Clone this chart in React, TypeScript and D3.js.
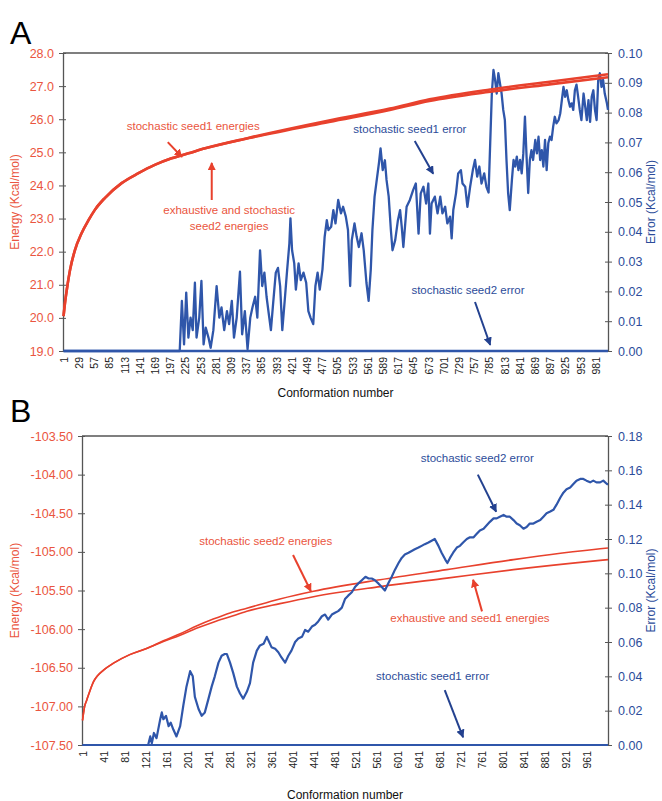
import React, { useRef, useEffect } from "react";
import * as d3 from "d3";

// conformation tick labels
const ticksA = [1, 29, 57, 85, 113, 141, 169, 197, 225, 253, 281, 309, 337, 365, 393, 421, 449, 477, 505, 533, 561, 589, 617, 645, 673, 701, 729, 757, 785, 813, 841, 869, 897, 925, 953, 981];
const ticksB = [1, 41, 81, 121, 161, 201, 241, 281, 321, 361, 401, 441, 481, 521, 561, 601, 641, 681, 721, 761, 801, 841, 881, 921, 961];

const energyTicksA = [19, 20, 21, 22, 23, 24, 25, 26, 27, 28];
const errorTicksA = [0, 0.01, 0.02, 0.03, 0.04, 0.05, 0.06, 0.07, 0.08, 0.09, 0.1];
const energyTicksB = [-107.5, -107, -106.5, -106, -105.5, -105, -104.5, -104, -103.5];
const errorTicksB = [0, 0.02, 0.04, 0.06, 0.08, 0.1, 0.12, 0.14, 0.16, 0.18];

// [conformation, energy]
const exhaustiveA = [[1, 20.05], [4, 20.5], [7, 20.85], [13, 21.45], [22, 22.05], [34, 22.55], [47, 22.95], [59, 23.27], [77, 23.62], [108, 24.07], [139, 24.37], [169, 24.62], [200, 24.82], [231, 24.97], [262, 25.12], [343, 25.43], [490, 25.92], [602, 26.28], [675, 26.55], [787, 26.83], [900, 27.06], [1004, 27.27]];
const seed1EnergyA = [[1, 20.05], [4, 20.5], [7, 20.85], [13, 21.45], [22, 22.05], [34, 22.55], [47, 22.95], [59, 23.27], [77, 23.62], [108, 24.07], [139, 24.37], [169, 24.62], [200, 24.82], [231, 24.97], [262, 25.12], [343, 25.44], [490, 25.96], [602, 26.32], [675, 26.6], [787, 26.9], [900, 27.14], [1004, 27.36]];

// [conformation, error]
const seed1ErrorA = [[1, 0], [215, 0], [219, 0.0168], [223, 0.0022], [227, 0.0196], [231, 0.0045], [235, 0.0112], [239, 0.007], [243, 0.0229], [246, 0.0045], [251, 0.0112], [255, 0.0235], [259, 0.0022], [263, 0.0078], [268, 0.0045], [272, 0.0011], [277, 0.007], [283, 0.0218], [288, 0.0112], [292, 0.0146], [297, 0.007], [302, 0.0134], [306, 0.009], [311, 0.0168], [315, 0.0045], [320, 0.0112], [326, 0.0266], [330, 0.0056], [335, 0.0134], [340, 0.0006], [345, 0.0112], [349, 0.0146], [354, 0.0182], [358, 0.0112], [363, 0.0338], [367, 0.0218], [371, 0.0263], [375, 0.0182], [380, 0.0112], [383, 0.007], [387, 0.0157], [392, 0.0263], [396, 0.0279], [400, 0.0218], [404, 0.007], [409, 0.0182], [413, 0.0274], [417, 0.036], [419, 0.0445], [422, 0.0338], [426, 0.0294], [429, 0.0206], [434, 0.0294], [438, 0.0238], [443, 0.0263], [448, 0.0229], [452, 0.0134], [456, 0.0112], [461, 0.009], [465, 0.0218], [469, 0.0263], [473, 0.0206], [478, 0.0274], [482, 0.0383], [486, 0.0439], [489, 0.0406], [494, 0.0417], [498, 0.0473], [502, 0.0428], [507, 0.0507], [512, 0.0462], [516, 0.0484], [521, 0.0451], [525, 0.0406], [529, 0.0218], [532, 0.0372], [537, 0.0428], [541, 0.0383], [545, 0.0349], [550, 0.0395], [554, 0.0338], [559, 0.0229], [563, 0.0168], [567, 0.0274], [570, 0.0406], [574, 0.0518], [578, 0.0574], [582, 0.063], [585, 0.068], [589, 0.0607], [593, 0.064], [596, 0.0574], [600, 0.0518], [604, 0.0406], [607, 0.0338], [612, 0.0372], [617, 0.0439], [621, 0.0473], [624, 0.0417], [627, 0.0349], [633, 0.0484], [639, 0.0507], [645, 0.054], [650, 0.0562], [655, 0.0394], [659, 0.0529], [664, 0.0551], [669, 0.0495], [673, 0.0562], [676, 0.0394], [679, 0.0495], [685, 0.0518], [690, 0.0462], [695, 0.0518], [699, 0.0462], [704, 0.0484], [708, 0.0428], [713, 0.0451], [716, 0.0378], [719, 0.0473], [724, 0.0529], [728, 0.0596], [733, 0.0607], [736, 0.0562], [741, 0.0551], [745, 0.0484], [750, 0.0551], [755, 0.0607], [759, 0.0641], [763, 0.0585], [767, 0.0619], [771, 0.0562], [776, 0.0596], [780, 0.0551], [784, 0.0532], [787, 0.0697], [790, 0.0864], [793, 0.0943], [796, 0.091], [799, 0.0864], [802, 0.0932], [805, 0.0898], [808, 0.0864], [811, 0.0809], [814, 0.0775], [817, 0.0641], [820, 0.053], [823, 0.0473], [827, 0.0574], [830, 0.0641], [833, 0.0619], [836, 0.0652], [839, 0.0607], [842, 0.0641], [845, 0.0596], [848, 0.0663], [851, 0.0786], [854, 0.0652], [857, 0.053], [860, 0.0641], [863, 0.0674], [866, 0.0641], [870, 0.0708], [873, 0.0663], [876, 0.0719], [879, 0.0641], [882, 0.0674], [885, 0.0619], [888, 0.0708], [891, 0.0607], [894, 0.0697], [897, 0.0719], [900, 0.0708], [903, 0.0753], [906, 0.0786], [909, 0.0764], [913, 0.0775], [916, 0.0797], [919, 0.0842], [922, 0.0886], [925, 0.0853], [928, 0.0875], [931, 0.0842], [934, 0.082], [937, 0.0831], [940, 0.0809], [943, 0.0875], [946, 0.0894], [949, 0.0853], [952, 0.0809], [955, 0.0775], [959, 0.0864], [962, 0.082], [965, 0.0775], [968, 0.0842], [971, 0.0769], [974, 0.0853], [977, 0.0875], [980, 0.0809], [983, 0.0775], [986, 0.0909], [989, 0.0932], [992, 0.0886], [995, 0.091], [998, 0.0864], [1002, 0.0831], [1004, 0.0809]];
const seed2ErrorA = [[1, 0], [1004, 0]];

const exhaustiveB = [[1, -107.18], [5, -107.0], [9, -106.92], [15, -106.8], [22, -106.68], [30, -106.6], [41, -106.53], [60, -106.44], [91, -106.33], [123, -106.25], [155, -106.16], [187, -106.08], [218, -105.99], [250, -105.91], [282, -105.84], [314, -105.77], [377, -105.67], [441, -105.58], [568, -105.45], [695, -105.34], [822, -105.23], [987, -105.11], [1002, -105.1]];
const seed2EnergyB = [[1, -107.18], [5, -107.0], [9, -106.92], [15, -106.8], [22, -106.68], [30, -106.6], [41, -106.53], [60, -106.44], [91, -106.33], [123, -106.25], [155, -106.15], [187, -106.06], [218, -105.96], [250, -105.87], [282, -105.79], [314, -105.73], [377, -105.61], [441, -105.51], [568, -105.36], [695, -105.23], [822, -105.1], [987, -104.96], [1002, -104.95]];
const seed2ErrorB = [[1, 0], [126, 0], [130, 0.005], [133, 0.001], [137, 0.007], [142, 0.004], [149, 0.015], [152, 0.019], [155, 0.015], [160, 0.017], [165, 0.011], [169, 0.013], [174, 0.009], [180, 0.005], [187, 0.011], [193, 0.023], [199, 0.034], [206, 0.043], [211, 0.04], [215, 0.028], [222, 0.021], [228, 0.017], [234, 0.019], [241, 0.027], [247, 0.034], [253, 0.04], [260, 0.048], [266, 0.052], [272, 0.053], [276, 0.053], [282, 0.048], [288, 0.042], [295, 0.034], [301, 0.03], [307, 0.027], [314, 0.031], [320, 0.036], [326, 0.048], [333, 0.055], [339, 0.058], [346, 0.059], [352, 0.063], [355, 0.061], [361, 0.057], [368, 0.056], [374, 0.054], [380, 0.051], [387, 0.048], [393, 0.052], [399, 0.055], [406, 0.06], [412, 0.062], [419, 0.063], [425, 0.067], [431, 0.066], [438, 0.069], [444, 0.07], [450, 0.072], [457, 0.075], [463, 0.076], [469, 0.073], [476, 0.076], [482, 0.077], [488, 0.078], [495, 0.08], [501, 0.085], [507, 0.087], [514, 0.089], [520, 0.092], [526, 0.094], [533, 0.096], [540, 0.098], [546, 0.097], [552, 0.097], [558, 0.096], [565, 0.094], [571, 0.092], [577, 0.09], [584, 0.0945], [590, 0.098], [596, 0.102], [603, 0.106], [609, 0.109], [615, 0.111], [622, 0.112], [628, 0.113], [634, 0.114], [641, 0.115], [647, 0.116], [653, 0.117], [660, 0.118], [666, 0.119], [672, 0.12], [679, 0.116], [685, 0.112], [692, 0.108], [696, 0.106], [701, 0.109], [707, 0.112], [714, 0.115], [720, 0.116], [726, 0.118], [733, 0.12], [739, 0.121], [746, 0.121], [752, 0.123], [758, 0.125], [765, 0.126], [771, 0.128], [777, 0.13], [784, 0.132], [790, 0.132], [796, 0.133], [803, 0.134], [809, 0.133], [815, 0.133], [822, 0.131], [828, 0.129], [834, 0.128], [841, 0.126], [847, 0.127], [853, 0.129], [860, 0.129], [866, 0.13], [873, 0.131], [879, 0.133], [885, 0.135], [892, 0.136], [898, 0.137], [904, 0.14], [911, 0.144], [917, 0.147], [923, 0.149], [930, 0.15], [936, 0.152], [942, 0.154], [949, 0.155], [955, 0.155], [961, 0.154], [968, 0.153], [974, 0.154], [980, 0.153], [987, 0.153], [993, 0.154], [1000, 0.152], [1002, 0.152]];
const seed1ErrorB = [[1, 0], [1002, 0]];

// annotations in data units (conformation, energy)
const notesA = [
    { lines: ["stochastic seed1 energies"], x: 240, y: 25.8, c: "red" },
    { lines: ["exhaustive and stochastic", "seed2 energies"], x: 306, y: 23.26, c: "red" },
    { lines: ["stochastic seed1 error"], x: 639, y: 25.7, c: "blue" },
    { lines: ["stochastic seed2 error"], x: 746, y: 20.84, c: "blue" },
];
const arrowsA = [
    { from: [193, 25.31], to: [219, 24.86], c: "red" },
    { from: [274, 23.56], to: [274, 24.68], c: "red" },
    { from: [648, 25.34], to: [682, 24.35], c: "blue" },
    { from: [759, 20.48], to: [787, 19.18], c: "blue" },
];
const notesB = [
    { lines: ["stochastic seed2 energies"], x: 350, y: -104.86, c: "red" },
    { lines: ["exhaustive and seed1 energies"], x: 739, y: -105.86, c: "red" },
    { lines: ["stochastic seed2 error"], x: 753, y: -103.78, c: "blue" },
    { lines: ["stochastic seed1 error"], x: 668, y: -106.61, c: "blue" },
];
const arrowsB = [
    { from: [402, -105.04], to: [436, -105.51], c: "red" },
    { from: [762, -105.77], to: [745, -105.36], c: "red" },
    { from: [754, -104.0], to: [789, -104.48], c: "blue" },
    { from: [691, -106.79], to: [726, -107.4], c: "blue" },
];

const RED = "#e8412d";
const RED_TEXT = "#ea5540";
const BLUE = "#2f56aa";
const BLUE_TEXT = "#2c4c9a";
const FONT = "'Liberation Sans', Arial, sans-serif";

const panels = [
    {
        label: "A", labelY: 44, top: 53, bottom: 351, left: 63, right: 608, xMax: 1004,
        eDomain: [19, 28], errDomain: [0, 0.1], eTicks: energyTicksA, errTicks: errorTicksA,
        eFmt: (d) => d.toFixed(1), xTicks: ticksA, titleY: 397,
        energies: [exhaustiveA, seed1EnergyA], errors: [seed2ErrorA, seed1ErrorA],
        energyWidth: 2.6, errorWidth: 2.3, redOnTop: true, notes: notesA, arrows: arrowsA,
    },
    {
        label: "B", labelY: 422, top: 436, bottom: 745, left: 82, right: 608, xMax: 1002,
        eDomain: [-107.5, -103.5], errDomain: [0, 0.18], eTicks: energyTicksB, errTicks: errorTicksB,
        eFmt: (d) => d.toFixed(2), xTicks: ticksB, titleY: 799,
        energies: [exhaustiveB, seed2EnergyB], errors: [seed1ErrorB, seed2ErrorB],
        energyWidth: 1.6, errorWidth: 2.2, redOnTop: false, notes: notesB, arrows: arrowsB,
    },
];

const App = () => {
    const svgRef = useRef(null);

    useEffect(() => {
        const svg = d3.select(svgRef.current);
        svg.selectAll("*").remove();

        const defs = svg.append("defs");
        [["red", RED], ["blue", "#23418f"]].forEach(([id, col]) => {
            defs.append("marker")
                .attr("id", "head-" + id)
                .attr("viewBox", "0 0 10 10")
                .attr("refX", 9).attr("refY", 5)
                .attr("markerWidth", 4.2).attr("markerHeight", 4.2)
                .attr("orient", "auto")
                .append("path").attr("d", "M0,0L10,5L0,10z").attr("fill", col);
        });

        panels.forEach(p => {
            const g = svg.append("g");
            const x = d3.scaleLinear().domain([0, p.xMax]).range([p.left, p.right]);
            const yE = d3.scaleLinear().domain(p.eDomain).range([p.bottom, p.top]);
            const yR = d3.scaleLinear().domain(p.errDomain).range([p.bottom, p.top]);

            // frame
            g.append("line").attr("x1", p.left).attr("x2", p.right).attr("y1", p.top).attr("y2", p.top)
                .attr("stroke", "#555").attr("stroke-width", 1.3);
            g.append("line").attr("x1", p.left).attr("x2", p.right).attr("y1", p.bottom).attr("y2", p.bottom)
                .attr("stroke", "#555").attr("stroke-width", 1.3);

            // left axis
            const left = g.append("g").attr("transform", `translate(${p.left},0)`)
                .call(d3.axisLeft(yE).tickValues(p.eTicks).tickFormat(p.eFmt).tickSizeInner(4).tickSizeOuter(0).tickPadding(5));
            left.select(".domain").attr("stroke", "#555").attr("stroke-width", 1.3);
            left.selectAll(".tick line").attr("x2", 3).attr("x1", -4).attr("stroke", "#555");
            left.selectAll(".tick text").attr("fill", RED_TEXT).style("font", `12.5px ${FONT}`);

            // right axis
            const right = g.append("g").attr("transform", `translate(${p.right},0)`)
                .call(d3.axisRight(yR).tickValues(p.errTicks).tickFormat(d3.format(".2f")).tickSizeInner(4).tickSizeOuter(0).tickPadding(6));
            right.select(".domain").attr("stroke", "#555").attr("stroke-width", 1.3);
            right.selectAll(".tick line").attr("x1", -3).attr("x2", 4).attr("stroke", "#555");
            right.selectAll(".tick text").attr("fill", BLUE_TEXT).style("font", `12.5px ${FONT}`);

            // bottom category labels
            const bottom = g.append("g").attr("transform", `translate(0,${p.bottom})`)
                .call(d3.axisBottom(x).tickValues(p.xTicks).tickFormat(d3.format("d")).tickSize(0));
            bottom.select(".domain").remove();
            bottom.selectAll(".tick text")
                .attr("transform", "rotate(-90)")
                .attr("text-anchor", "end")
                .attr("x", -6).attr("y", 0).attr("dy", "0.35em")
                .attr("fill", "#222")
                .style("font", `10.5px ${FONT}`);

            g.append("text")
                .attr("x", (p.left + p.right) / 2).attr("y", p.titleY)
                .attr("text-anchor", "middle").attr("fill", "#111")
                .style("font", `12px ${FONT}`)
                .text("Conformation number");

            const mid = (p.top + p.bottom) / 2;
            g.append("text")
                .attr("transform", `translate(19,${mid}) rotate(-90)`)
                .attr("text-anchor", "middle").attr("fill", RED_TEXT)
                .style("font", `12px ${FONT}`)
                .text("Energy (Kcal/mol)");
            g.append("text")
                .attr("transform", `translate(655,${mid}) rotate(-90)`)
                .attr("text-anchor", "middle").attr("fill", BLUE_TEXT)
                .style("font", `12px ${FONT}`)
                .text("Error (Kcal/mol)");

            g.append("text")
                .attr("x", 10).attr("y", p.labelY).attr("fill", "#000")
                .style("font", `32px ${FONT}`)
                .text(p.label);

            const lineE = d3.line().x(d => x(d[0])).y(d => yE(d[1])).curve(d3.curveMonotoneX);
            const lineR = d3.line().x(d => x(d[0])).y(d => yR(d[1]));

            const drawRed = () => p.energies.forEach(s => {
                g.append("path").datum(s)
                    .attr("fill", "none").attr("stroke", RED)
                    .attr("stroke-width", p.energyWidth)
                    .attr("d", lineE);
            });
            const drawBlue = () => p.errors.forEach(s => {
                g.append("path").datum(s)
                    .attr("fill", "none").attr("stroke", BLUE)
                    .attr("stroke-width", p.errorWidth).attr("stroke-linejoin", "round")
                    .attr("d", lineR);
            });
            if (p.redOnTop) { drawBlue(); drawRed(); } else { drawRed(); drawBlue(); }

            // annotations
            p.notes.forEach(n => {
                n.lines.forEach((t, i) => {
                    g.append("text")
                        .attr("x", x(n.x)).attr("y", yE(n.y) + i * 16)
                        .attr("dy", "0.35em").attr("text-anchor", "middle")
                        .attr("fill", n.c === "red" ? RED_TEXT : BLUE_TEXT)
                        .style("font", `11.5px ${FONT}`)
                        .text(t);
                });
            });
            p.arrows.forEach(a => {
                g.append("line")
                    .attr("x1", x(a.from[0])).attr("y1", yE(a.from[1]))
                    .attr("x2", x(a.to[0])).attr("y2", yE(a.to[1]))
                    .attr("stroke", a.c === "red" ? RED : "#23418f")
                    .attr("stroke-width", 2)
                    .attr("marker-end", `url(#head-${a.c})`);
            });
        });
    }, []);

    return (
        <svg ref={svgRef} width={662} height={801}
            style={{ position: "absolute", left: 0, top: 0, background: "#fff" }} />
    );
};

export default App;
